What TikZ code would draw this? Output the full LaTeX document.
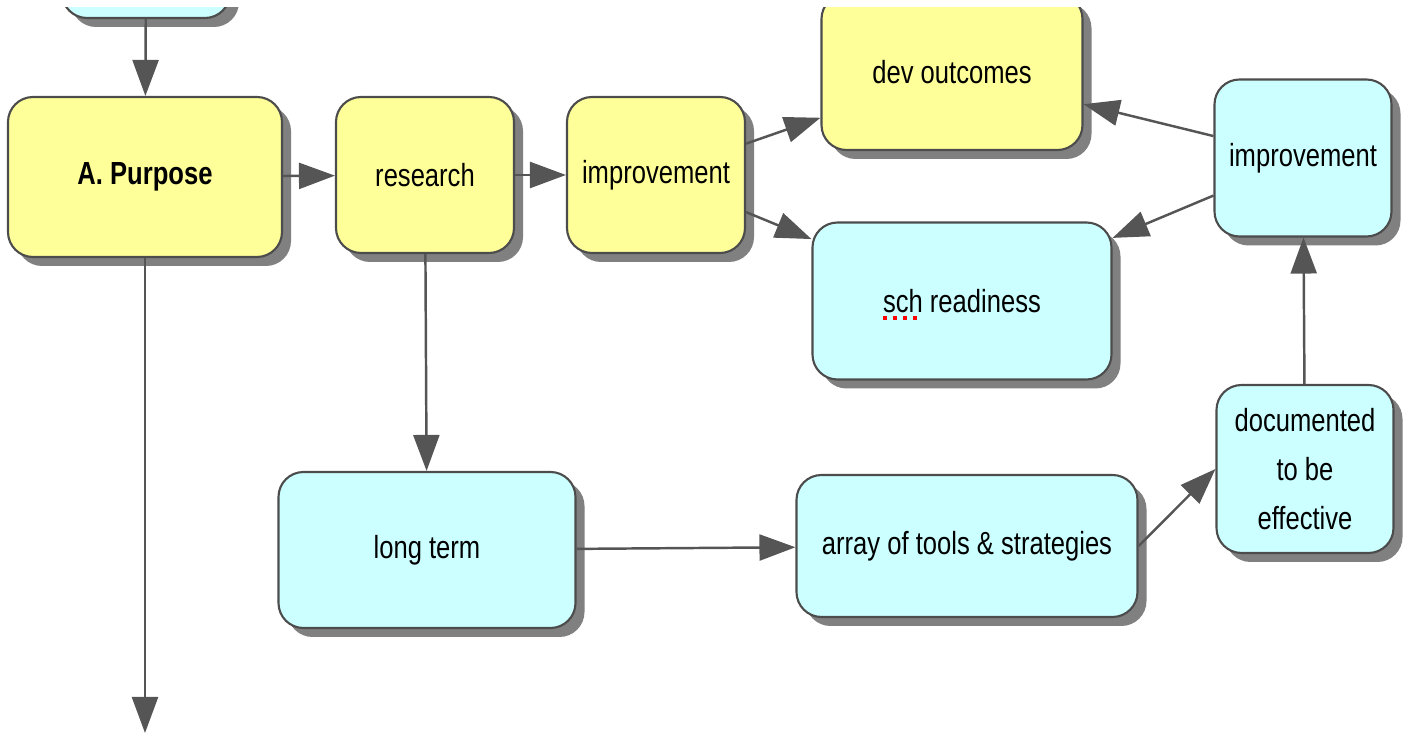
\documentclass[tikz,border=0pt]{standalone}
\usepackage{fontspec}
\setmainfont{Liberation Sans}[FakeStretch=0.8]
\usetikzlibrary{arrows.meta,shadows}
\definecolor{boxyellow}{HTML}{FFFF99}
\definecolor{boxcyan}{HTML}{CCFFFF}
\definecolor{linegray}{HTML}{555555}

\begin{document}
\begin{tikzpicture}[
  box/.style={draw=black!70, line width=0.6pt, rounded corners=0.25cm, align=center, inner sep=0pt,
    font=\fontsize{9.1}{13.9}\selectfont,
    drop shadow={shadow xshift=0.09cm, shadow yshift=-0.09cm, fill=black!50, opacity=1}},
  ybox/.style={box, fill=boxyellow},
  cbox/.style={box, fill=boxcyan},
  link/.style={-{Triangle[length=0.36cm,width=0.26cm]}, draw=linegray, line width=0.7pt}
]
  \useasboundingbox (0,0) rectangle (14.08,7.33);
  \clip (0,0) rectangle (14.08,7.25);

  \node[cbox, minimum width=1.68cm, minimum height=1.0cm] (top) at (1.46,7.65) {};
  \node[ybox, minimum width=2.74cm, minimum height=1.60cm] (purpose) at (1.45,5.56) {\bfseries A. Purpose};
  \node[ybox, minimum width=1.78cm, minimum height=1.56cm] (research) at (4.25,5.58) {research};
  \node[ybox, minimum width=1.78cm, minimum height=1.56cm] (impA) at (6.56,5.58) {improvement};
  \node[ybox, minimum width=2.61cm, minimum height=1.56cm] (devout) at (9.52,6.61) {dev outcomes};
  \node[cbox, minimum width=1.77cm, minimum height=1.57cm] (impB) at (13.03,5.75) {improvement};
  \node[cbox, minimum width=2.99cm, minimum height=1.57cm] (sch) at (9.62,4.32) {sch readiness};
  \node[cbox, minimum width=1.77cm, minimum height=1.68cm] (doc) at (13.05,2.64) {documented\\to be\\effective};
  \node[cbox, minimum width=3.41cm, minimum height=1.42cm] (array) at (9.67,1.87) {array of tools \& strategies};
  \node[cbox, minimum width=2.97cm, minimum height=1.56cm] (longterm) at (4.27,1.83) {long term};
  \coordinate (bottom) at (1.45,0);

  \draw[red, line width=1.1pt, dash pattern=on 1.2pt off 1.6pt] (8.83,4.15) -- (9.21,4.15);

  \draw[link] (top) -- (purpose);
  \draw[link] (purpose) -- (research);
  \draw[link] (research) -- (impA);
  \draw[link] (impA) -- (devout);
  \draw[link] (impA) -- (sch);
  \draw[link] (impB) -- (devout);
  \draw[link] (impB) -- (sch);
  \draw[link] (doc) -- (impB);
  \draw[link] (research) -- (longterm);
  \draw[link] (longterm) -- (array);
  \draw[link] (array.east) -- (doc.west);
  \draw[link] (purpose) -- (bottom);
\end{tikzpicture}
\end{document}
